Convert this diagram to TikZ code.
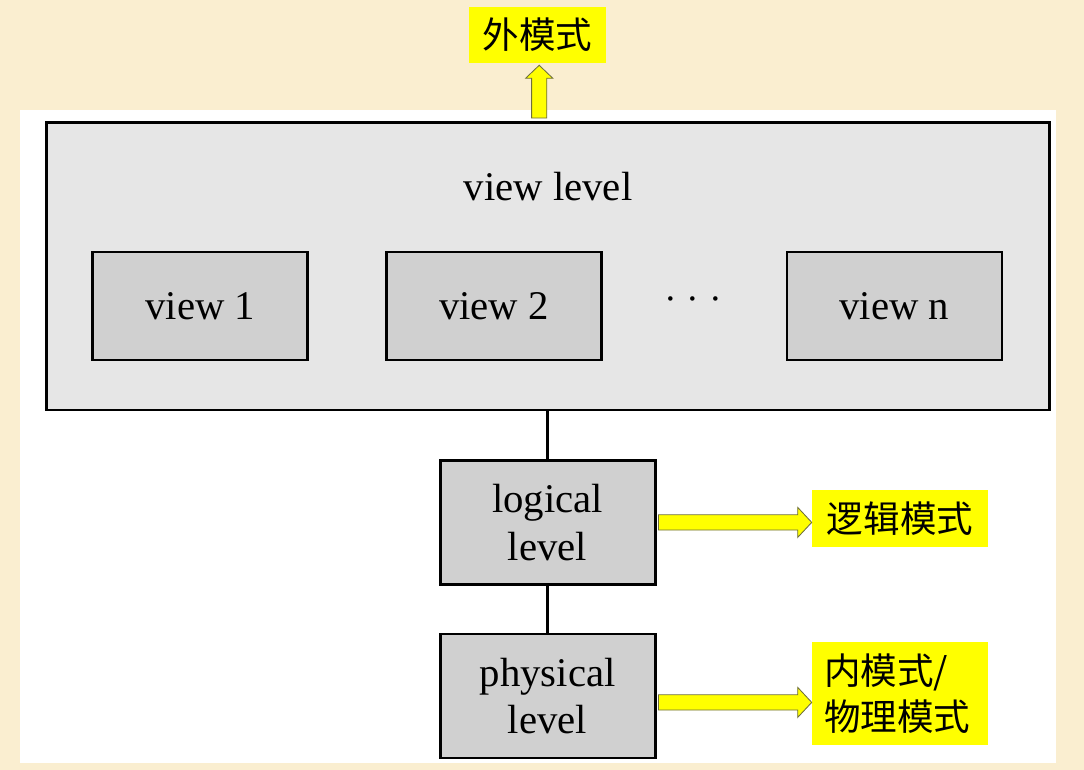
\documentclass[tikz,border=0pt]{standalone}
\usepackage{fontspec}
\setmainfont{Liberation Serif}
\newfontfamily\cjk{Noto Sans CJK SC}
\usepackage{xcolor}
\usetikzlibrary{calc}
\definecolor{paperBeige}{RGB}{250, 238, 208}
\definecolor{levelLight}{RGB}{230, 230, 230}
\definecolor{levelGray}{RGB}{208, 208, 208}
\definecolor{noteYellow}{RGB}{255, 255, 0}
\definecolor{arrowEdge}{RGB}{110, 110, 60}

\tikzset{
  levelbox/.style={draw=black, line width=2pt, fill=levelGray, align=center,
    minimum width=5.375cm, font=\fontsize{29}{34}\selectfont},
  notebox/.style={fill=noteYellow, inner sep=0pt, align=left,
    font=\cjk\fontsize{26}{33}\selectfont},
  blockarrow/.style={fill=noteYellow, draw=arrowEdge, line width=0.6pt, line join=miter},
  link/.style={line width=2pt}
}
% block arrow pointing right: start, tip (same height)
\newcommand{\rightblock}[2]{%
  \draw[blockarrow] ($(#1)+(0,0.19)$) -- ($(#2)+(-0.35,0.19)$) -- ($(#2)+(-0.35,0.375)$)
    -- (#2) -- ($(#2)+(-0.35,-0.375)$) -- ($(#2)+(-0.35,-0.19)$) -- ($(#1)+(0,-0.19)$) -- cycle;}

\begin{document}
\begin{tikzpicture}
            % Paper and sheet
            \fill[paperBeige] (0,0) rectangle (27.1,-19.25);
            \fill[white] (0.5,-2.75) rectangle (26.4,-19.08);
            
            % View level
            \node[draw=black, line width=2pt, fill=levelLight, minimum width=25.075cm, minimum height=7.175cm] (viewlevel) at (13.69,-6.66) {};
            \node[font=\fontsize{29}{34}\selectfont] (viewtitle) at (13.7,-4.675) {view level};
            
            \node[levelbox, minimum height=2.7cm] (view1) at (5.01,-7.65) {view 1};
            \node[levelbox, minimum height=2.7cm] (view2) at (12.35,-7.65) {view 2};
            \node[font=\fontsize{27}{32}\selectfont, inner sep=0pt] (dots) at (17.33,-7.6) {· · ·};
            \node[levelbox, minimum height=2.7cm] (viewn) at (22.36,-7.65) {view n};
            
            % Lower levels
            \node[levelbox, minimum height=3.1cm] (logical) at (13.69,-13.06) {logical\\level};
            \node[levelbox, minimum height=3.1cm] (physical) at (13.69,-17.4) {physical\\level};
            
            \draw[link] (viewlevel) -- (logical);
            \draw[link] (logical) -- (physical);
            
            % Schema notes
            \node[notebox, minimum width=3.425cm, minimum height=1.4cm, align=center] (external) at (13.44,-0.875) {外模式};
            \node[notebox, minimum width=4.4cm, minimum height=1.425cm, align=center] (logicalschema) at (22.5,-12.96) {逻辑模式};
            \node[notebox, minimum width=4.4cm, minimum height=2.575cm, text width=3.8cm] (internal) at (22.5,-17.34) {内模式/\\物理模式};
            
            % Block arrows
            \coordinate (upfoot) at (13.48,-2.95);
            \coordinate (uptip) at (external.south -| upfoot);
            \draw[blockarrow] ($(upfoot)+(-0.19,0)$) -- ($(uptip)+(-0.19,-0.375)$) -- ($(uptip)+(-0.34,-0.375)$)
              -- ($(uptip)+(0,-0.05)$) -- ($(uptip)+(0.34,-0.375)$) -- ($(uptip)+(0.19,-0.375)$) -- ($(upfoot)+(0.19,0)$) -- cycle;
            
            \coordinate (lgfoot) at ([xshift=0.05cm]logical.east);
            \coordinate (lgtip) at (lgfoot -| logicalschema.west);
            \rightblock{lgfoot}{lgtip}
            
            \coordinate (phfoot) at ([xshift=0.05cm, yshift=-0.16cm]physical.east);
            \coordinate (phtip) at (phfoot -| internal.west);
            \rightblock{phfoot}{phtip}
        \end{tikzpicture}
\end{document}
